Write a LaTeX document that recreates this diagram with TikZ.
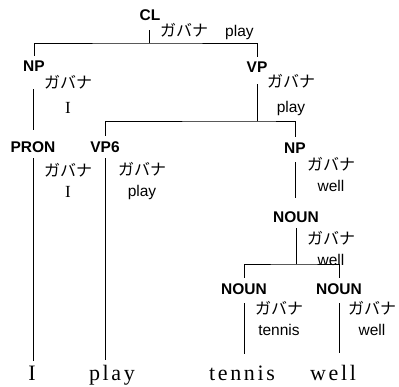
\documentclass[tikz,border=0pt]{standalone}
\usepackage{fontspec}
\usepackage{tikz}
\usetikzlibrary{positioning,calc}
\setmainfont{Liberation Serif}
\setsansfont{Liberation Sans}
\newfontfamily\jpfont{Noto Sans CJK JP}
\newfontfamily\wordfont[LetterSpace=12]{Liberation Serif}
\newcommand{\gbn}{{\jpfont\fontsize{16}{16}\selectfont ガバナ}}
\newcommand{\serI}{{\rmfamily\fontsize{17}{17}\selectfont I}}
\tikzset{
  cat/.style={font=\sffamily\bfseries\fontsize{15.5}{15.5}\selectfont,
              inner sep=0pt,text height=11pt,text depth=0pt},
  feat/.style={font=\sffamily\fontsize{15.5}{21}\selectfont,
               align=center,inner sep=0pt},
  word/.style={font=\wordfont\fontsize{22}{22}\selectfont,
               inner sep=0pt,anchor=base},
  branch/.style={line width=0.9pt,line cap=rect}
}

\begin{document}
\begin{tikzpicture}[x=1pt,y={(0,-1pt)}]
  \useasboundingbox (0,0) rectangle (399,386);
  % categories
  \node[cat] (cl) at (150,15) {CL};
  \node[cat] (np1) at (34,66) {NP};
  \node[cat] (vp) at (257,67) {VP};
  \node[cat] (pron) at (33,147) {PRON};
  \node[cat] (vp6) at (105,147) {VP6};
  \node[cat] (np2) at (295,148) {NP};
  \node[cat] (noun1) at (296,217) {NOUN};
  \node[cat] (noun2) at (244,289) {NOUN};
  \node[cat] (noun3) at (339,289) {NOUN};
  % heads
  \node[feat,anchor=west] (clf) at (160,32) {\gbn\hspace{17pt}play};
  \node[feat] (np1f) at (68,94) {\gbn\\[4pt]\serI};
  \node[feat] (vpf) at (291,95) {\gbn\\[4pt]play};
  \node[feat] (pronf) at (68,180) {\gbn\\\serI};
  \node[feat] (vp6f) at (142,181) {\gbn\\play};
  \node[feat] (np2f) at (331,174) {\gbn\\well};
  \node[feat] (noun1f) at (331,248) {\gbn\\well};
  \node[feat] (noun2f) at (279,318) {\gbn\\tennis};
  \node[feat] (noun3f) at (372,318) {\gbn\\well};
  % words
  \node[word] (wi) at (32,380) {I};
  \node[word] (wplay) at (112,380) {play};
  \node[word] (wtennis) at (242,380) {tennis};
  \node[word] (wwell) at (333,380) {well};
  % branches
  \coordinate (clbar) at (149,43);
  \coordinate (vpbar) at (257,121);
  \coordinate (nounbar) at (296,264);
  \draw[branch] ([yshift=-10pt]cl.south -| clbar) -- (clbar);
  \draw[branch] ([yshift=5pt]np1.north) |- (clbar) -| ([yshift=5pt]vp.north);
  \draw[branch] ([yshift=-18pt]np1.south -| pron) -- ([yshift=12pt]pron.north);
  \draw[branch] ([yshift=-6pt]pron.south) -- ([yshift=5pt]pron.south |- wi.north);
  \draw[branch] ([yshift=-12pt]vp.south) -- (vpbar);
  \draw[branch] ([yshift=6pt]vp6.north) |- (vpbar) -| ([yshift=6pt]np2.north);
  \draw[branch] ([yshift=-6pt]vp6.south) -- ([yshift=5pt]vp6.south |- wplay.north);
  \draw[branch] ([yshift=-9pt]np2.south) -- ([yshift=14pt]noun1.north -| np2);
  \draw[branch] ([yshift=-6pt]noun1.south) -- (nounbar);
  \draw[branch] ([yshift=6pt]noun2.north) |- (nounbar) -| ([yshift=6pt]noun3.north);
  \draw[branch] ([yshift=-9pt]noun2.south) -- ([yshift=12pt]noun2.south |- wtennis.north);
  \draw[branch] ([yshift=-9pt]noun3.south) -- ([yshift=12pt]noun3.south |- wwell.north);
\end{tikzpicture}
\end{document}
